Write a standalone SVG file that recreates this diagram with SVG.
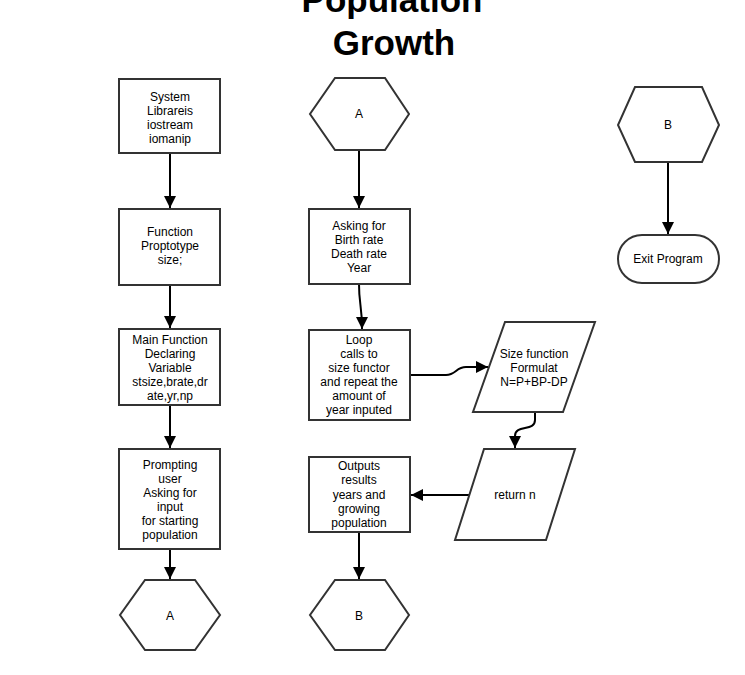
<svg xmlns="http://www.w3.org/2000/svg" width="745" height="675" viewBox="0 0 745 675">
<style>
.n{fill:#fff;stroke:#333;stroke-width:2}
.t{font-family:"Liberation Sans",Arial,sans-serif;font-size:12px;fill:#000;text-anchor:middle}
.c{fill:none;stroke:#000;stroke-width:2}
.title{font-family:"Liberation Sans",Arial,sans-serif;font-size:35px;font-weight:bold;text-anchor:middle}
</style>
<defs>
<marker id="ah" viewBox="0 0 10 10" refX="10" refY="5" markerWidth="6" markerHeight="6" orient="auto" markerUnits="strokeWidth">
<path d="M0,0 L10,5 L0,10 z" fill="#000"/>
</marker>
</defs>
<rect width="745" height="675" fill="#fff"/>
<text class="title" x="392" y="12">Population</text>
<text class="title" x="394" y="55">Growth</text>

<g id="connectors">
<path class="c" marker-end="url(#ah)" d="M170,153 L170,208"/>
<path class="c" marker-end="url(#ah)" d="M170,285 L170,328"/>
<path class="c" marker-end="url(#ah)" d="M170,405 L170,448"/>
<path class="c" marker-end="url(#ah)" d="M170,549 L170,579"/>
<path class="c" marker-end="url(#ah)" d="M359,150 L359,208"/>
<path class="c" marker-end="url(#ah)" d="M359,284 C359,305 362,305 362,329"/>
<path class="c" marker-end="url(#ah)" d="M410,375 L446,375 C456,375 456,367 466,367 L488,367"/>
<path class="c" marker-end="url(#ah)" d="M535,412 L535,420 C535,432 515,424 515,436 L515,448"/>
<path class="c" marker-end="url(#ah)" d="M469,495 L411,495"/>
<path class="c" marker-end="url(#ah)" d="M359,532 L359,579"/>
<path class="c" marker-end="url(#ah)" d="M668,162 L668,234"/>
</g>

<g id="sysLib">
<rect class="n" x="119" y="79" width="101" height="74"/>
<text class="t" x="170" y="101">System</text>
<text class="t" x="170" y="115">Librareis</text>
<text class="t" x="170" y="129">iostream</text>
<text class="t" x="170" y="143">iomanip</text>
</g>
<g id="funcProto">
<rect class="n" x="119" y="209" width="101" height="76"/>
<text class="t" x="170" y="236">Function</text>
<text class="t" x="170" y="250">Proptotype</text>
<text class="t" x="170" y="264">size;</text>
</g>
<g id="mainFunc">
<rect class="n" x="119" y="329" width="101" height="76"/>
<text class="t" x="170" y="344">Main Function</text>
<text class="t" x="170" y="358">Declaring</text>
<text class="t" x="170" y="372">Variable</text>
<text class="t" x="170" y="386">stsize,brate,dr</text>
<text class="t" x="170" y="400">ate,yr,np</text>
</g>
<g id="prompt">
<rect class="n" x="119" y="449" width="101" height="100"/>
<text class="t" x="170" y="469">Prompting</text>
<text class="t" x="170" y="483">user</text>
<text class="t" x="170" y="497">Asking for</text>
<text class="t" x="170" y="511">input</text>
<text class="t" x="170" y="525">for starting</text>
<text class="t" x="170" y="539">population</text>
</g>
<g id="hexA1">
<polygon class="n" points="145,580 195,580 220,615 195,650 145,650 120,615"/>
<text class="t" x="170" y="620">A</text>
</g>
<g id="hexA2">
<polygon class="n" points="335,78 385,78 409,114 385,150 335,150 310,114"/>
<text class="t" x="359" y="118">A</text>
</g>
<g id="askRates">
<rect class="n" x="309" y="209" width="101" height="75"/>
<text class="t" x="359" y="230">Asking for</text>
<text class="t" x="359" y="244">Birth rate</text>
<text class="t" x="359" y="258">Death rate</text>
<text class="t" x="359" y="272">Year</text>
</g>
<g id="loop">
<rect class="n" x="309" y="330" width="101" height="90"/>
<text class="t" x="359" y="344">Loop</text>
<text class="t" x="359" y="358">calls to</text>
<text class="t" x="359" y="372">size functor</text>
<text class="t" x="359" y="386">and repeat the</text>
<text class="t" x="359" y="400">amount of</text>
<text class="t" x="359" y="414">year inputed</text>
</g>
<g id="sizeFunc">
<polygon class="n" points="505,322 595,322 563,412 473,412"/>
<text class="t" x="534" y="358">Size function</text>
<text class="t" x="534" y="372">Formulat</text>
<text class="t" x="534" y="386">N=P+BP-DP</text>
</g>
<g id="returnN">
<polygon class="n" points="484,449 575,449 546,540 455,540"/>
<text class="t" x="515" y="499">return n</text>
</g>
<g id="outputs">
<rect class="n" x="309" y="457" width="101" height="75"/>
<text class="t" x="359" y="470">Outputs</text>
<text class="t" x="359" y="484">results</text>
<text class="t" x="359" y="499">years and</text>
<text class="t" x="359" y="513">growing</text>
<text class="t" x="359" y="527">population</text>
</g>
<g id="hexB1">
<polygon class="n" points="335,580 385,580 409,615 385,650 335,650 310,615"/>
<text class="t" x="359" y="620">B</text>
</g>
<g id="hexB2">
<polygon class="n" points="635,87 702,87 719,125 702,162 635,162 618,125"/>
<text class="t" x="668" y="129">B</text>
</g>
<g id="exit">
<rect class="n" x="618" y="235" width="101" height="48" rx="24" ry="24"/>
<text class="t" x="668" y="263">Exit Program</text>
</g>
</svg>
